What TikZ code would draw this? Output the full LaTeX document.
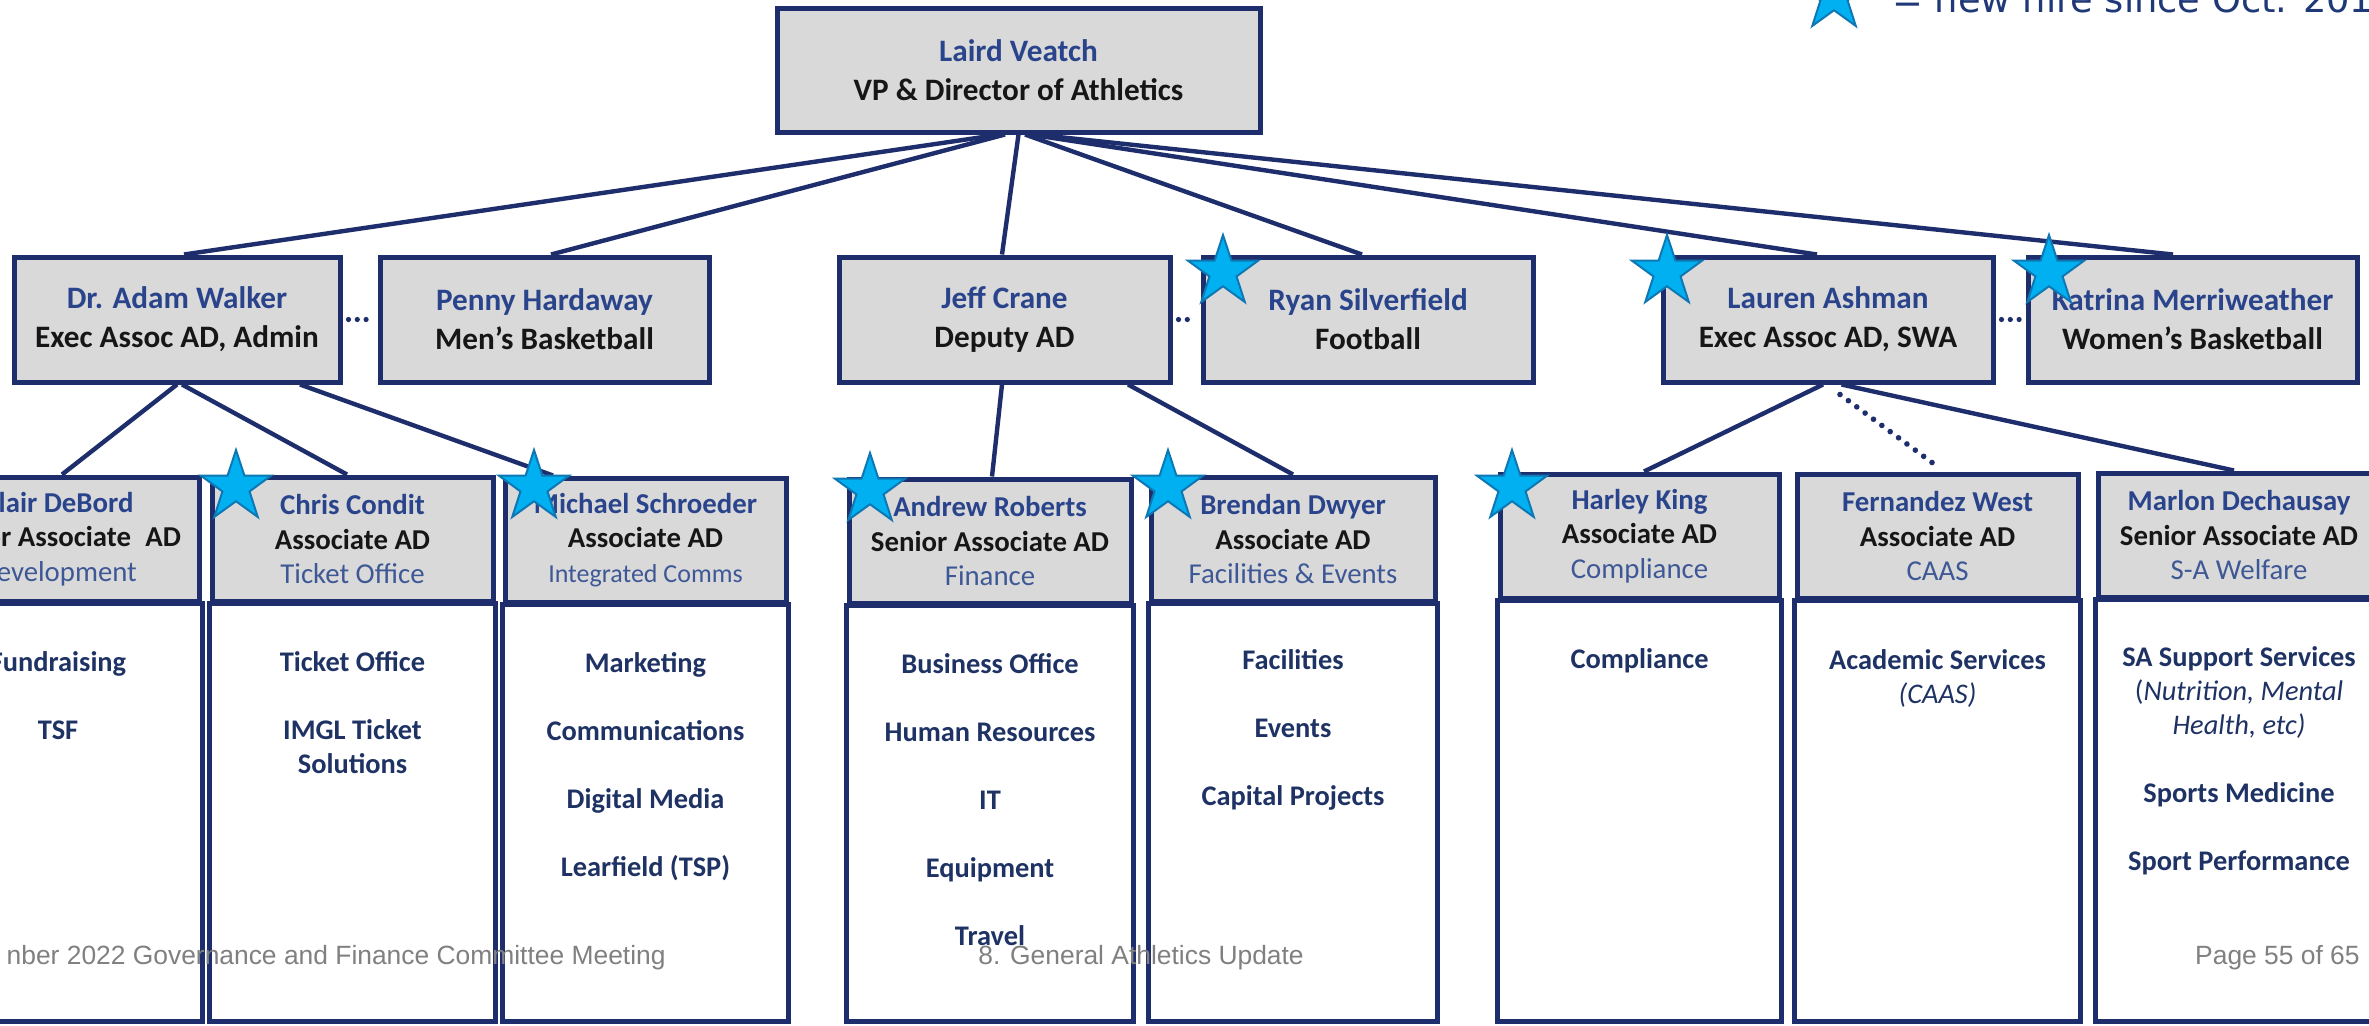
\documentclass[tikz,border=0pt]{standalone}
\usepackage{fontspec}
\setmainfont{Carlito}
\newfontfamily\footfont{Liberation Sans}
\newfontfamily\legfont{DejaVu Sans}
\usetikzlibrary{shapes.geometric}
\definecolor{navy}{RGB}{30,46,108}
\definecolor{boxgray}{RGB}{217,217,217}
\definecolor{namecol}{RGB}{42,68,140}
\definecolor{titlecol}{RGB}{22,22,22}
\definecolor{deptcol}{RGB}{62,88,150}
\definecolor{itemcol}{RGB}{30,50,100}
\definecolor{starfill}{RGB}{0,176,240}
\definecolor{starline}{RGB}{14,120,180}
\definecolor{footcol}{RGB}{128,128,128}
\definecolor{legcol}{RGB}{31,56,120}
\newcommand\pname[1]{{\bfseries\color{namecol}#1}}
\newcommand\ptitle[1]{{\bfseries\color{titlecol}#1}}
\newcommand\pdept[1]{{\mdseries\color{deptcol}#1}}
\begin{document}
\begin{tikzpicture}[x=0.5pt,y=-0.5pt,
  lvbox/.style={draw=navy, fill=boxgray, line width=2.5pt, align=center, inner sep=0pt, font=\fontsize{15.6}{19.5}\selectfont},
  lvtop/.style={lvbox, minimum width=241.5pt, minimum height=62pt},
  lvmid/.style={lvbox, minimum height=62.5pt},
  lvhdr/.style={lvbox, minimum height=62pt, font=\fontsize{14.4}{17.3}\selectfont},
  lvbody/.style={draw=navy, fill=white, line width=2.5pt},
  lvitems/.style={anchor=north, align=center, inner sep=0pt, text=itemcol, font=\fontsize{14.2}{17}\selectfont\bfseries},
  lvlink/.style={draw=navy, line width=2.2pt},
  lvdots/.style={draw=navy, line width=2.8pt, line cap=round, dash pattern=on 0pt off 5.2pt},
  lvpeer/.style={draw=navy, line width=2.6pt, line cap=round, dash pattern=on 0pt off 4.4pt, shorten <=3pt, shorten >=2.5pt},
  newstar/.style={star, star points=5, star point ratio=2.6, minimum size=37pt, inner sep=0pt, fill=starfill, draw=starline, line width=1pt},
  foot/.style={inner sep=0pt, text=footcol, font=\footfont\fontsize{13.2}{15}\selectfont}]
\useasboundingbox (0,0) rectangle (2369,1025);
\clip (0,0) rectangle (2369,1025);
\fill[white] (0,0) rectangle (2369,1025);
\coordinate (bottomline) at (0,1021);

% top
\node[lvtop] (laird) at (1018.5,70) {\pname{Laird Veatch}\\\ptitle{VP \& Director of Athletics}};

% row 2
\node[lvmid, minimum width=163pt] (adam) at (177,319.5) {\pname{Dr. Adam Walker}\\\ptitle{Exec Assoc AD, Admin}};
\node[lvmid, minimum width=164.5pt] (penny) at (544.5,319.5) {\pname{Penny Hardaway}\\\ptitle{Men’s Basketball}};
\node[lvmid, minimum width=165.5pt] (jeff) at (1004.5,319.5) {\pname{Jeff Crane}\\\ptitle{Deputy AD}};
\node[lvmid, minimum width=165pt] (ryan) at (1368,319.5) {\pname{Ryan Silverfield}\\\ptitle{Football}};
\node[lvmid, minimum width=165pt] (lauren) at (1828,319.5) {\pname{Lauren Ashman}\\\ptitle{Exec Assoc AD, SWA}};
\node[lvmid, minimum width=164.5pt] (katrina) at (2192.5,319.5) {\pname{Katrina Merriweather}\\\ptitle{Women’s Basketball}};

% row 3 headers
\node[lvhdr, minimum width=141.5pt] (blair) at (58,539) {\pname{Blair DeBord}\\\ptitle{Senior Associate\enspace AD}\\\pdept{Development}};
\node[lvhdr, minimum width=140.5pt] (chris) at (352.5,539) {\pname{Chris Condit}\\\ptitle{Associate AD}\\\pdept{Ticket Office}};
\node[lvhdr, minimum width=140.5pt] (michael) at (645.5,540) {\pname{Michael Schroeder}\\\ptitle{Associate AD}\\{\fontsize{13}{17.3}\selectfont\pdept{Integrated Comms}}};
\node[lvhdr, minimum width=141pt] (andrew) at (990,541) {\pname{Andrew Roberts}\\\ptitle{Senior Associate AD}\\\pdept{Finance}};
\node[lvhdr, minimum width=142pt] (brendan) at (1293,539) {\pname{Brendan Dwyer}\\\ptitle{Associate AD}\\\pdept{Facilities \& Events}};
\node[lvhdr, minimum width=139.5pt] (harley) at (1639.5,536) {\pname{Harley King}\\\ptitle{Associate AD}\\\pdept{Compliance}};
\node[lvhdr, minimum width=140.5pt] (fernandez) at (1937.5,536) {\pname{Fernandez West}\\\ptitle{Associate AD}\\\pdept{CAAS}};
\node[lvhdr, minimum width=141pt] (marlon) at (2239,535) {\pname{Marlon Dechausay}\\\ptitle{Senior Associate AD}\\\pdept{S-A Welfare}};

% lower white boxes
\foreach \n in {blair,chris,michael,andrew,brendan,harley,fernandez,marlon}
  \draw[lvbody] (\n.south west) rectangle (\n.south east |- bottomline);

% body texts
\node[lvitems] (blairitems) at (58,647) {\strut Fundraising\\[17pt]TSF};
\node[lvitems] (chrisitems) at (352.5,647) {\strut Ticket Office\\[17pt]IMGL Ticket\\Solutions};
\node[lvitems] (michaelitems) at (645.5,648) {\strut Marketing\\[17pt]Communications\\[17pt]Digital Media\\[17pt]Learfield (TSP)};
\node[lvitems] (andrewitems) at (990,649) {\strut Business Office\\[17pt]Human Resources\\[17pt]IT\\[17pt]Equipment\\[17pt]Travel};
\node[lvitems] (brendanitems) at (1293,645) {\strut Facilities\\[17pt]Events\\[17pt]Capital Projects};
\node[lvitems] (harleyitems) at (1639.5,644) {\strut Compliance};
\node[lvitems] (fernandezitems) at (1937.5,645) {\strut Academic Services\\{\mdseries\itshape (CAAS)}};
\node[lvitems] (marlonitems) at (2239,642) {\strut SA Support Services\\{\mdseries(\itshape Nutrition, Mental}\\{\mdseries\itshape Health, etc)}\\[17pt]Sports Medicine\\[17pt]Sport Performance};

% connectors from top
\draw[lvlink] ([xshift=-9.25pt]laird.south) -- ([xshift=3.5pt]adam.north);
\draw[lvlink] ([xshift=-6.75pt]laird.south) -- ([xshift=3.25pt]penny.north);
\draw[lvlink] (laird.south) -- ([xshift=-1.25pt]jeff.north);
\draw[lvlink] ([xshift=3.25pt]laird.south) -- ([xshift=-3pt]ryan.north);
\draw[lvlink] ([xshift=5.75pt]laird.south) -- ([xshift=-5.5pt]lauren.north);
\draw[lvlink] ([xshift=8.25pt]laird.south) -- ([xshift=-9.75pt]katrina.north);

% dotted peers
\draw[lvpeer] (adam.east) -- (penny.west);
\draw[lvpeer] (jeff.east) -- (ryan.west);
\draw[lvpeer] (lauren.east) -- (katrina.west);

% row 2 to row 3
\draw[lvlink] (adam.south) -- ([xshift=2pt]blair.north);
\draw[lvlink] ([xshift=2.5pt]adam.south) -- ([xshift=-2.75pt]chris.north);
\draw[lvlink] ([xshift=61.5pt]adam.south) -- ([xshift=-46.25pt]michael.north);
\draw[lvlink] ([xshift=-1.25pt]jeff.south) -- ([xshift=1pt]andrew.north);
\draw[lvlink] ([xshift=61.75pt]jeff.south) -- (brendan.north);
\draw[lvlink] ([xshift=-2.5pt]lauren.south) -- ([xshift=2.25pt]harley.north);
\draw[lvdots] ([xshift=6pt,yshift=-5pt]lauren.south) -- ([xshift=-2.75pt,yshift=4.5pt]fernandez.north);
\draw[lvlink] ([xshift=6.75pt]lauren.south) -- ([xshift=-2.5pt]marlon.north);

% stars
\node[newstar] (starryan) at (1223,272) {};
\node[newstar] (starlauren) at (1667,272) {};
\node[newstar] (starkatrina) at (2049,272) {};
\node[newstar] (starchris) at (236,487) {};
\node[newstar] (starmichael) at (534,487) {};
\node[newstar] (starandrew) at (870,490) {};
\node[newstar] (starbrendan) at (1168,487) {};
\node[newstar] (starharley) at (1512,487) {};

% legend
\node[newstar] (starlegend) at (1834,-4) {};
\node[anchor=base west, inner sep=0pt, text=legcol, font=\legfont\fontsize{18.4}{22}\selectfont] (legendtext) at (1892,12) {= new hire since Oct. 201};

% footer
\node[foot, anchor=base east] (footleft) at (666,964) {nber 2022 Governance and Finance Committee Meeting};
\node[foot, anchor=base west] (footmid) at (978,964) {8. General Athletics Update};
\node[foot, anchor=base east] (footright) at (2360,964) {Page 55 of 65};
\end{tikzpicture}
\end{document}
